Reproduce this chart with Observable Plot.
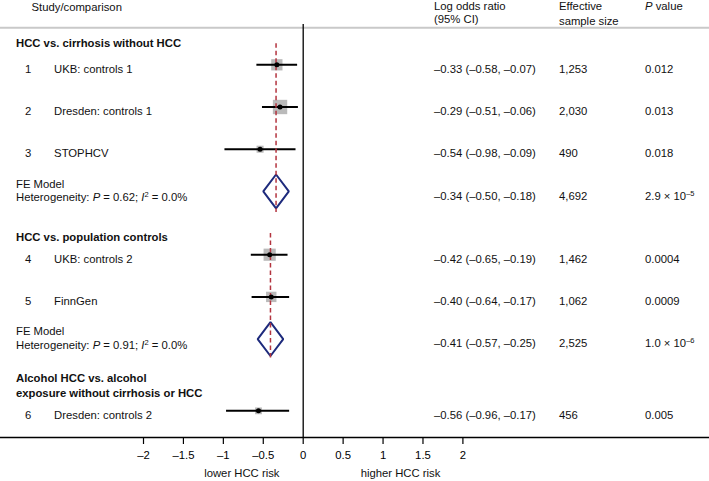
<!DOCTYPE html>
<html>
<head>
<meta charset="utf-8">
<script src="https://cdn.jsdelivr.net/npm/d3@7"></script>
<script src="https://cdn.jsdelivr.net/npm/@observablehq/plot@0.6"></script>
<style>
  html, body { margin: 0; padding: 0; background: white; }
  #chart svg { display: block; }
</style>
</head>
<body>
<div id="chart"></div>
<script>
// ---------- data ----------
const studyNum = [1, 2, 3, 4, 5, 6];
const studyLabel = ["UKB: controls 1", "Dresden: controls 1", "STOPHCV", "UKB: controls 2", "FinnGen", "Dresden: controls 2"];
const studyEst = [-0.33, -0.29, -0.54, -0.42, -0.40, -0.56];
const studyLo  = [-0.58, -0.51, -0.98, -0.65, -0.64, -0.96];
const studyHi  = [-0.07, -0.06, -0.09, -0.19, -0.17, -0.17];
const studyN   = [1253, 2030, 490, 1462, 1062, 456];
const studyP   = ["0.012", "0.013", "0.018", "0.0004", "0.0009", "0.005"];

const sectionTitle = [
  ["HCC vs. cirrhosis without HCC"],
  ["HCC vs. population controls"],
  ["Alcohol HCC vs. alcohol", "exposure without cirrhosis or HCC"]
];
const feEst = [-0.34, -0.41];
const feLo  = [-0.50, -0.57];
const feHi  = [-0.18, -0.25];
const feN   = [4692, 2525];
const fePMantissa = ["2.9", "1.0"];
const fePExponent = ["–5", "–6"];
const hetP  = ["0.62", "0.91"];
const hetI2 = ["0.0%", "0.0%"];

const xTicks = [-2, -1.5, -1, -0.5, 0, 0.5, 1, 1.5, 2];
const axisNotes = ["lower HCC risk", "higher HCC risk"];
const headers = {study: "Study/comparison", lor: ["Log odds ratio", "(95% CI)"], ess: ["Effective", "sample size"], p: "P value"};

// ---------- layout (row units, like a forest plot) ----------
const studyRow = [0, 1, 2, 4.5, 5.5, 8.2];
const studySection = [0, 0, 0, 1, 1, 2];
const feRow = [3, 6.5];
const sectionTitleRow = [[-0.62], [3.99], [7.33, 7.68]];

const W = 709, H = 481;
const X0 = 302.7, PXU = 79.85;          // pixel of x=0, pixels per unit
const ROW0 = 64.3, ROWH = 42.2, AXISY = 437;
const xDomain = [-X0 / PXU, (W - X0) / PXU];
const yDomain = [-ROW0 / ROWH, (AXISY - ROW0) / ROWH];
const px2x = px => (px - X0) / PXU;
const px2k = px => (px - ROW0) / ROWH;

const FONT = "'Liberation Sans', Arial, Helvetica, sans-serif";
const FS = 11.3;
const TDY = 4.5;

const dash = v => (v < 0 ? "–" : "") + Math.abs(v).toFixed(2);
const ci = (e, l, h) => `${dash(e)} (${dash(l)}, ${dash(h)})`;
const comma = d3.format(",");

const studies = studyNum.map((n, i) => ({
  num: String(n), label: studyLabel[i], est: studyEst[i], lo: studyLo[i], hi: studyHi[i],
  n: studyN[i], p: studyP[i], row: studyRow[i], section: studySection[i]
}));
const fes = feEst.map((e, i) => ({
  est: e, lo: feLo[i], hi: feHi[i], n: feN[i], row: feRow[i],
  p: `${fePMantissa[i]} × 10^${fePExponent[i]}`,
  het: `Heterogeneity: P = ${hetP[i]}; I2 = ${hetI2[i]}`,
  top: d3.min(studies.filter(s => s.section === i), s => s.row) - 0.5,
  bottom: feRow[i] + 0.5
}));
const diamondPts = fes.flatMap((f, i) => [
  {g: i, x: f.lo, y: f.row}, {g: i, x: f.est, y: f.row - 0.4},
  {g: i, x: f.hi, y: f.row}, {g: i, x: f.est, y: f.row + 0.4}
]);
const titles = sectionTitle.flatMap((lines, i) => lines.map((t, j) => ({t, row: sectionTitleRow[i][j]})));

const colL = {num: px2x(24.5), label: px2x(53.6), title: px2x(15.5)};
const colR = {lor: px2x(433.5), ess: px2x(558.5), p: px2x(644.5)};

const txt = (data, o) => Plot.text(data, {fontSize: FS, fill: "#111", textAnchor: "start", ...o});

const plot = Plot.plot({
  width: W, height: H,
  marginTop: 0, marginBottom: H - AXISY, marginLeft: 0, marginRight: 0,
  x: {domain: xDomain, axis: null},
  y: {domain: yDomain, reverse: true, axis: null},
  r: {type: "sqrt", domain: [0, 2030], range: [0, 8.1]},
  style: {fontFamily: FONT, fontSize: FS + "px", background: "white", color: "black"},
  marks: [
    Plot.ruleY([px2k(27.3)], {stroke: "#c9c9c9", strokeWidth: 2}),
    Plot.ruleX([0], {y1: px2k(24), y2: yDomain[1], stroke: "black", strokeWidth: 1.3}),
    Plot.ruleY([yDomain[1]], {stroke: "black", strokeWidth: 1.3}),
    Plot.axisX(xTicks, {
      tickSize: 7, tickPadding: 6.5, fontSize: FS, label: null, strokeWidth: 1.2,
      tickFormat: d => (d < 0 ? "–" : "") + Math.abs(d)
    }),
    // study squares (area ~ effective sample size)
    Plot.dot(studies, {x: "est", y: "row", r: "n", symbol: "square", fill: "#bababa", stroke: null}),
    // confidence intervals
    Plot.ruleY(studies, {y: "row", x1: "lo", x2: "hi", stroke: "black", strokeWidth: 2}),
    // fixed-effect diamonds
    Plot.line(diamondPts, {x: "x", y: "y", z: "g", curve: "linear-closed", stroke: "#1d2a7c", strokeWidth: 2, strokeLinejoin: "miter"}),
    // pooled estimate dashed lines
    Plot.ruleX(fes, {x: "est", y1: "top", y2: "bottom", stroke: "#b3343f", strokeWidth: 1.5, strokeDasharray: "4.5,3"}),
    // point estimates
    Plot.dot(studies, {x: "est", y: "row", r: 2.5, fill: "black", stroke: null}),

    // left texts
    txt(titles, {x: colL.title, y: "row", text: "t", fontWeight: "bold", dy: TDY}),
    txt(studies, {x: colL.num, y: "row", text: "num", dy: TDY}),
    txt(studies, {x: colL.label, y: "row", text: "label", dy: TDY}),
    txt(fes, {x: colL.title, y: "row", text: () => "FE Model", dy: -7.5}),
    txt(fes, {x: colL.title, y: "row", text: "het", dy: 6}),

    // right columns
    txt(studies, {x: colR.lor, y: "row", text: d => ci(d.est, d.lo, d.hi), dy: TDY}),
    txt(studies, {x: colR.ess, y: "row", text: d => comma(d.n), dy: TDY}),
    txt(studies, {x: colR.p, y: "row", text: "p", dy: TDY}),
    txt(fes, {x: colR.lor, y: "row", text: d => ci(d.est, d.lo, d.hi), dy: TDY}),
    txt(fes, {x: colR.ess, y: "row", text: d => comma(d.n), dy: TDY}),
    txt(fes, {x: colR.p, y: "row", text: "p", dy: TDY}),

    // headers
    txt([headers.study], {x: px2x(31), y: px2k(6.5), text: d => d}),
    txt(headers.lor, {x: colR.lor, y: (d, i) => px2k([6, 18.5][i]), text: d => d}),
    txt(headers.ess, {x: colR.ess, y: (d, i) => px2k([6, 20.5][i]), text: d => d}),
    txt([headers.p], {x: colR.p, y: px2k(6), text: d => d}),

    // axis notes
    txt(axisNotes, {x: (d, i) => [px2x(241.3), px2x(400)][i], y: px2k(473), text: d => d, textAnchor: "middle"})
  ]
});

// ----- rich text (italics, superscripts) -----
const NS = "http://www.w3.org/2000/svg";
function rich(el, parts) {
  while (el.firstChild) el.removeChild(el.firstChild);
  for (const p of parts) {
    const ts = document.createElementNS(NS, "tspan");
    ts.textContent = p.t;
    if (p.italic) ts.setAttribute("font-style", "italic");
    if (p.sup) { ts.setAttribute("font-size", "7.5"); ts.setAttribute("dy", "-4"); }
    if (p.down) ts.setAttribute("dy", "4");
    el.appendChild(ts);
  }
}
plot.querySelectorAll("text").forEach(el => {
  const s = el.textContent;
  let m;
  if (s === "P value") {
    rich(el, [{t: "P", italic: true}, {t: " value"}]);
  } else if ((m = s.match(/^Heterogeneity: P = (.*); I2 = (.*)$/))) {
    rich(el, [{t: "Heterogeneity: "}, {t: "P", italic: true}, {t: ` = ${m[1]}; `},
              {t: "I", italic: true}, {t: "2", sup: true}, {t: ` = ${m[2]}`, down: true}]);
  } else if ((m = s.match(/^(.*) × 10\^(.*)$/))) {
    rich(el, [{t: `${m[1]} × 10`}, {t: m[2], sup: true}]);
  }
});

document.getElementById("chart").appendChild(plot);
</script>
</body>
</html>
